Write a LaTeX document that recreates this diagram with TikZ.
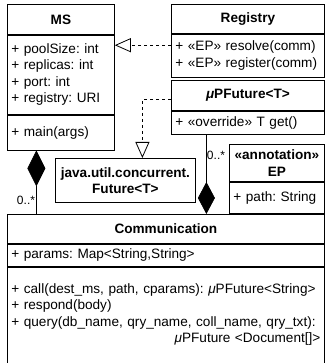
\documentclass[tikz,border=0pt]{standalone}
\usepackage{fontspec}
\setmainfont{Liberation Sans}
\usetikzlibrary{positioning,arrows.meta}
\newcommand{\umlfont}{\fontsize{13.6}{16.5}\selectfont\frenchspacing\hyphenpenalty=10000}

\begin{document}
\begin{tikzpicture}[x=1pt, y=-1pt, thick,
    head/.style = {draw, anchor=north west, align=center, inner sep=0pt, font=\umlfont\bfseries},
    body/.style = {draw, align=left, inner xsep=4pt, inner ysep=0pt, font=\umlfont},
    mult/.style = {inner sep=0pt, font=\fontsize{12}{14}\selectfont},
    realize/.style = {dashed, -{Triangle[open, length=16pt, width=14pt]}},
    owns/.style = {{Diamond[length=36pt, width=18pt]}-},
    owned/.style = {-{Diamond[length=32pt, width=17pt]}}]
    \path[use as bounding box, clip] (0,0) rectangle (328,363);
    \fill[white] (0,0) rectangle (328,363);

    \node[head, minimum width=107pt, minimum height=30pt] (ms) at (7,4) {MS};
    \node[body, below=0pt of ms, text width=99pt, minimum height=79pt] (msattr) {+ poolSize: int\\+ replicas: int\\+ port: int\\+ registry: URI};
    \node[body, below=0pt of msattr, text width=99pt, minimum height=35pt] (msmeth) {+ main(args)};

    \node[head, minimum width=153pt, minimum height=29pt] (reg) at (171,4) {Registry};
    \node[body, below=0pt of reg, text width=145pt, minimum height=43pt] (regattr) {\mbox{+ «EP» resolve(comm)}\\\mbox{+ «EP» register(comm)}};

    \node[head, minimum width=153pt, minimum height=30pt] (fut) at (171,80) {{\itshape μ}PFuture<T>};
    \node[body, below=0pt of fut, text width=145pt, minimum height=23pt] (futmeth) {+ «override» T get()};

    \node[head, minimum width=140pt, minimum height=44pt] (java) at (55,158) {java.util.concurrent.\\Future<T>};

    \node[head, minimum width=95pt, minimum height=37pt] (ep) at (229,144) {«annotation»\\EP};
    \node[body, below=0pt of ep, text width=87pt, minimum height=31pt] (epattr) {+ path: String};

    \node[head, minimum width=317pt, minimum height=29pt] (comm) at (7,214) {Communication};
    \node[body, below=0pt of comm, text width=309pt, minimum height=22pt] (commattr) {+ params: Map<String,String>};
    \node[body, below=0pt of commattr, text width=309pt, minimum height=109pt] (commmeth) {\mbox{+ call(dest\_ms, path, cparams): {\itshape μ}PFuture<String>}\\+ respond(body)\\\mbox{+ query(db\_name, qry\_name, coll\_name, qry\_txt):}\\\hskip 0pt plus 1fill {\itshape μ}PFuture <Document[]>\\\mbox{}};

    \node[mult] (msmult) at (26,200) {0..*};
    \node[mult] (futmult) at (216,155) {0..*};

    \draw[realize] ([yshift=10.5pt]regattr.west) coordinate (r1) -- (r1 -| msattr.east);
    \draw[realize] ([yshift=-4pt]fut.west) -| ([xshift=17pt]java.north);
    \draw[owns] ([xshift=-24.5pt]msmeth.south) coordinate (m1) -- (m1 |- comm.north);
    \draw[owned] ([xshift=-41.5pt]futmeth.south) coordinate (f1) -- (f1 |- comm.north);
\end{tikzpicture}
\end{document}
